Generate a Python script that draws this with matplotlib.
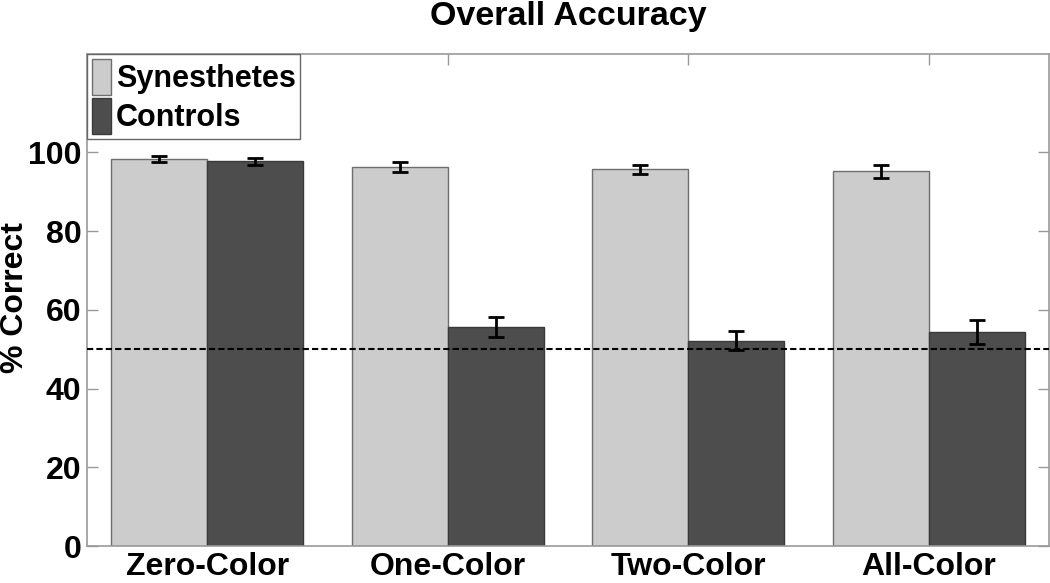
import matplotlib
matplotlib.use("Agg")
import matplotlib.pyplot as plt
import numpy as np

categories = ["Zero-Color", "One-Color", "Two-Color", "All-Color"]
synesthetes = [98.3, 96.3, 95.7, 95.2]
synesthetes_err = [0.7, 1.3, 1.1, 1.6]
controls = [97.7, 55.6, 52.2, 54.4]
controls_err = [0.9, 2.5, 2.3, 3.0]
chance = 50
yticks = [0, 20, 40, 60, 80, 100]

plt.rcParams['font.family'] = ['Liberation Sans', 'DejaVu Sans']
plt.rcParams['font.weight'] = 'bold'

W, H = 1050, 583
fig = plt.figure(figsize=(W/100, H/100), dpi=100)
ax = fig.add_axes([87/W, 1-546/H, (1049-87)/W, (546-54)/H])

x = np.arange(1, len(categories) + 1)
w = 0.4
ax.bar(x - w/2, synesthetes, width=w, color='#cccccc', edgecolor='#6e6e6e', linewidth=1.0, label='Synesthetes', zorder=2)
ax.bar(x + w/2, controls, width=w, color='#4d4d4d', edgecolor='#3a3a3a', linewidth=1.0, label='Controls', zorder=2)
ax.errorbar(x - w/2, synesthetes, yerr=synesthetes_err, fmt='none', ecolor='black', elinewidth=2, capsize=6, capthick=2, zorder=3)
ax.errorbar(x + w/2, controls, yerr=controls_err, fmt='none', ecolor='black', elinewidth=2, capsize=6, capthick=2, zorder=3)
ax.axhline(chance, color='black', linestyle=(0, (3, 1.5)), linewidth=1.5, zorder=4)

ax.set_xlim(0.5, 4.5)
ax.set_ylim(0, 125)
ax.set_xticks(x)
ax.set_xticklabels(categories, fontsize=23, fontweight='bold')
ax.set_yticks(yticks)
ax.set_yticklabels([str(v) for v in yticks], fontsize=23, fontweight='bold')
ax.tick_params(direction='in', length=8, color='#999999', top=True, right=True, width=1, pad=4)
for s in ax.spines.values():
    s.set_color('#999999')
    s.set_linewidth(1.2)

fig.text(15/W, 1-298/H, '% Correct', fontsize=23, fontweight='bold', rotation=90, ha='center', va='center')
fig.text(568/W, 1-16/H, 'Overall Accuracy', fontsize=24.5, fontweight='bold', ha='center', va='center')

leg = ax.legend(loc='upper left', bbox_to_anchor=(0, 1), borderaxespad=0, fontsize=22,
                fancybox=False, framealpha=1, edgecolor='#666666',
                handlelength=0.65, handleheight=1.45, handletextpad=0.15, borderpad=0.15, labelspacing=0.1)
leg.get_frame().set_linewidth(1.0)
for t in leg.get_texts():
    t.set_fontweight('bold')

fig.savefig('out.png', dpi=100)
